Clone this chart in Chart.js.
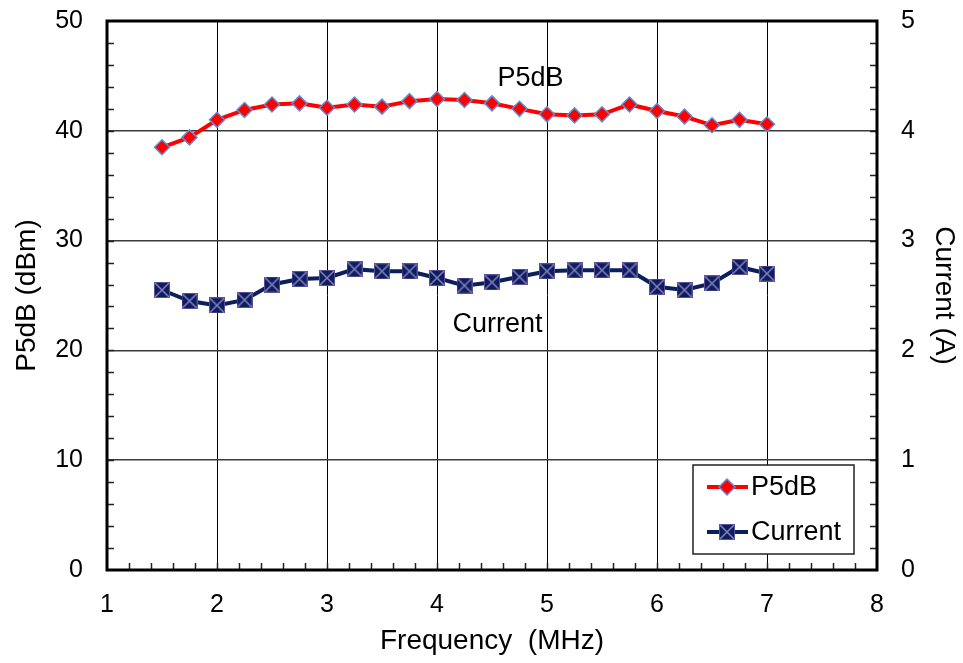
<!DOCTYPE html>
<html>
<head>
<meta charset="utf-8">
<script src="https://cdn.jsdelivr.net/npm/chart.js@4/dist/chart.umd.min.js"></script>
<style>
  html, body { margin: 0; padding: 0; background: #fff; }
</style>
</head>
<body>
<canvas id="chart" width="963" height="663"></canvas>
<script>
// values
const frequency = [1.5, 1.75, 2, 2.25, 2.5, 2.75, 3, 3.25, 3.5, 3.75, 4, 4.25,
                   4.5, 4.75, 5, 5.25, 5.5, 5.75, 6, 6.25, 6.5, 6.75, 7];
const p5dB = [38.5, 39.4, 41.0, 41.9, 42.4, 42.5, 42.1, 42.4, 42.2, 42.7, 42.9, 42.8,
              42.5, 42.0, 41.5, 41.4, 41.5, 42.4, 41.8, 41.3, 40.5, 41.0, 40.6];
const current = [2.55, 2.45, 2.41, 2.46, 2.60, 2.65, 2.66, 2.74, 2.72, 2.72, 2.66, 2.59,
                 2.62, 2.67, 2.72, 2.73, 2.73, 2.73, 2.58, 2.55, 2.61, 2.76, 2.70];

const xTicks = [1, 2, 3, 4, 5, 6, 7, 8];
const leftTicks = [0, 10, 20, 30, 40, 50];
const rightTicks = [0, 1, 2, 3, 4, 5];

const FONT = "'Liberation Sans', Arial, sans-serif";
const RED = '#ff0000';
const NAVY = '#0b1f5c';

// square marker with an X, like the Excel "Current" marker
function makeCrossSquare(size) {
    const c = document.createElement('canvas');
    c.width = size; c.height = size;
    const g = c.getContext('2d');
    g.fillStyle = NAVY;
    g.fillRect(0, 0, size, size);
    g.strokeStyle = '#5a5096';
    g.lineWidth = 1;
    g.strokeRect(0.5, 0.5, size - 1, size - 1);
    g.strokeStyle = '#8a7cc4';
    g.lineWidth = 1.5;
    g.beginPath();
    g.moveTo(1, 1); g.lineTo(size - 1, size - 1);
    g.moveTo(size - 1, 1); g.lineTo(1, size - 1);
    g.stroke();
    return c;
}
const crossSquare = makeCrossSquare(16);

// keep the plot area where the reference has it
function fixVertical(width) {
    return s => { s.width = width; s.paddingTop = 0; s.paddingBottom = 0; };
}

// frame, minor ticks, annotations and in-plot legend
const decorations = {
    id: 'decorations',
    beforeDatasetsDraw(chart) {
        const { ctx, chartArea: a, scales } = chart;
        ctx.save();
        ctx.strokeStyle = '#222';
        ctx.lineWidth = 1.5;
        ctx.beginPath();
        for (let v = 1.2; v < 8; v += 0.2) {
            const px = Math.round(scales.x.getPixelForValue(v)) + 0.5;
            ctx.moveTo(px, a.bottom); ctx.lineTo(px, a.bottom - 7);
        }
        for (let v = 2; v < 50; v += 2) {
            const py = Math.round(scales.y.getPixelForValue(v)) + 0.5;
            ctx.moveTo(a.left, py); ctx.lineTo(a.left + 7, py);
            ctx.moveTo(a.right, py); ctx.lineTo(a.right - 7, py);
        }
        ctx.stroke();
        ctx.restore();
    },
    afterDraw(chart) {
        const { ctx, chartArea: a, scales } = chart;
        ctx.save();
        ctx.strokeStyle = '#000';
        ctx.lineWidth = 3;
        ctx.strokeRect(a.left, a.top, a.right - a.left, a.bottom - a.top);

        // labels next to the curves
        ctx.fillStyle = '#000';
        ctx.font = '27px ' + FONT;
        ctx.textAlign = 'center';
        ctx.textBaseline = 'middle';
        ctx.fillText('P5dB', scales.x.getPixelForValue(4.85), scales.y.getPixelForValue(44.8));
        ctx.fillText('Current', scales.x.getPixelForValue(4.55), scales.y.getPixelForValue(22.4));

        // legend box
        const bx = a.right - 184, by = a.bottom - 105, bw = 161, bh = 89;
        ctx.fillStyle = '#fff';
        ctx.fillRect(bx, by, bw, bh);
        ctx.strokeStyle = '#222';
        ctx.lineWidth = 1.5;
        ctx.strokeRect(bx, by, bw, bh);
        chart.data.datasets.forEach((ds, i) => {
            const cy = by + 22 + i * 45;
            ctx.strokeStyle = ds.borderColor;
            ctx.lineWidth = 4;
            ctx.beginPath();
            ctx.moveTo(bx + 14, cy); ctx.lineTo(bx + 55, cy);
            ctx.stroke();
            const mx = bx + 34;
            if (ds.pointStyle === 'rectRot') {
                ctx.fillStyle = ds.pointBackgroundColor;
                ctx.strokeStyle = ds.pointBorderColor;
                ctx.lineWidth = 1.5;
                ctx.beginPath();
                ctx.moveTo(mx, cy - 8); ctx.lineTo(mx + 8, cy);
                ctx.lineTo(mx, cy + 8); ctx.lineTo(mx - 8, cy);
                ctx.closePath();
                ctx.fill(); ctx.stroke();
            } else {
                ctx.drawImage(ds.pointStyle, mx - 8, cy - 8);
            }
            ctx.fillStyle = '#000';
            ctx.font = '27px ' + FONT;
            ctx.textAlign = 'left';
            ctx.fillText(ds.label, bx + 58, cy + 1);
        });
        ctx.restore();
    }
};

new Chart(document.getElementById('chart'), {
    type: 'line',
    data: {
        datasets: [{
            label: 'P5dB',
            data: frequency.map((f, i) => ({ x: f, y: p5dB[i] })),
            yAxisID: 'y',
            borderColor: RED,
            borderWidth: 4,
            pointStyle: 'rectRot',
            pointRadius: 7.5,
            pointBackgroundColor: RED,
            pointBorderColor: '#5b8fd6',
            pointBorderWidth: 1.5,
            tension: 0
        }, {
            label: 'Current',
            data: frequency.map((f, i) => ({ x: f, y: current[i] })),
            yAxisID: 'y1',
            borderColor: NAVY,
            borderWidth: 4,
            pointStyle: crossSquare,
            pointRadius: 8,
            tension: 0
        }]
    },
    options: {
        responsive: false,
        animation: false,
        devicePixelRatio: 1,
        layout: { padding: { top: 21, left: 0, right: 0, bottom: 0 } },
        plugins: {
            legend: { display: false },
            tooltip: { enabled: false }
        },
        scales: {
            x: {
                type: 'linear',
                min: 1, max: 8,
                afterBuildTicks: s => { s.ticks = xTicks.map(v => ({ value: v })); },
                afterFit: s => { s.height = 93; },
                grid: { color: '#000', lineWidth: 1, drawTicks: false },
                border: { display: false },
                ticks: { color: '#000', padding: 20, font: { family: FONT, size: 25 } },
                title: {
                    display: true, text: 'Frequency  (MHz)', color: '#000',
                    font: { family: FONT, size: 28 }, padding: { top: 0, bottom: 5 }
                }
            },
            y: {
                position: 'left',
                min: 0, max: 50,
                afterBuildTicks: s => { s.ticks = leftTicks.map(v => ({ value: v })); },
                afterFit: fixVertical(107),
                grid: { color: '#3a3a3a', lineWidth: 1.5, drawTicks: false },
                border: { display: false },
                ticks: { color: '#000', padding: 24, font: { family: FONT, size: 25 } },
                title: {
                    display: true, text: 'P5dB (dBm)', color: '#000',
                    font: { family: FONT, size: 28 }, padding: { top: 10, bottom: 0 }
                }
            },
            y1: {
                position: 'right',
                min: 0, max: 5,
                afterBuildTicks: s => { s.ticks = rightTicks.map(v => ({ value: v })); },
                afterFit: fixVertical(86),
                grid: { display: false, drawTicks: false },
                border: { display: false },
                ticks: { color: '#000', padding: 24, font: { family: FONT, size: 25 } },
                title: {
                    display: true, text: 'Current (A)', color: '#000',
                    font: { family: FONT, size: 28 }, padding: { top: 2, bottom: 0 }
                }
            }
        }
    },
    plugins: [decorations]
});
</script>
</body>
</html>
